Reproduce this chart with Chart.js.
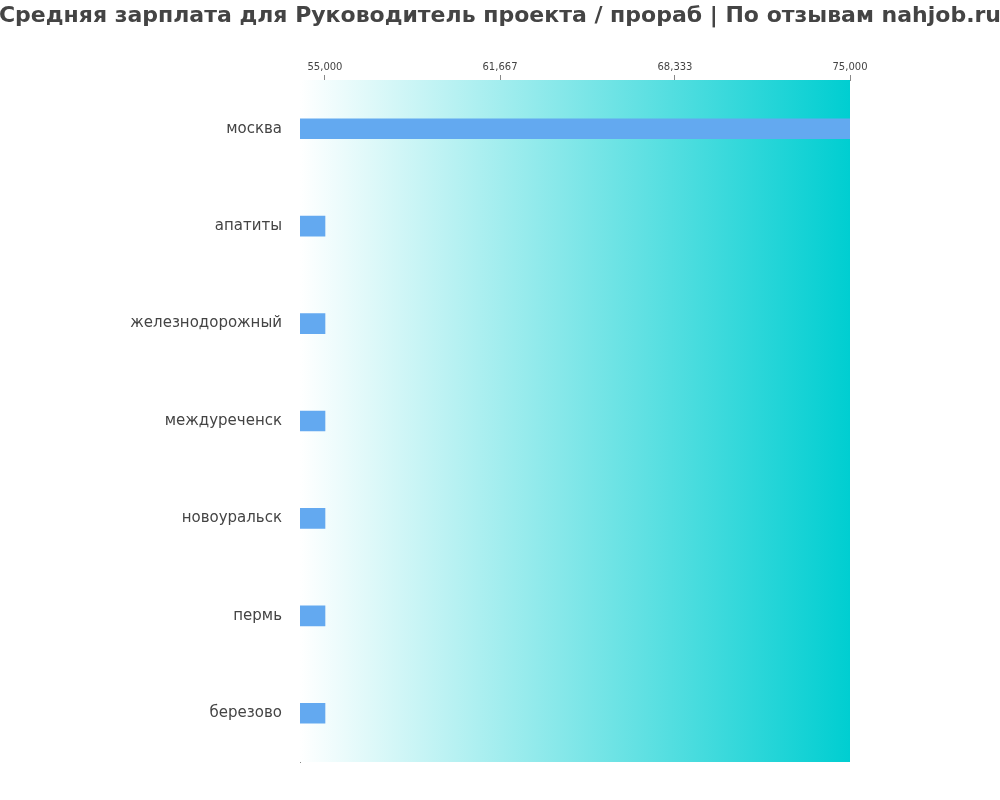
<!DOCTYPE html>
<html>
<head>
<meta charset="utf-8">
<script src="https://cdn.jsdelivr.net/npm/chart.js@4"></script>
<style>
  body { margin: 0; background: #fff; }
  #wrap { width: 1000px; height: 800px; }
</style>
</head>
<body>
<div id="wrap"><canvas id="salaryChart"></canvas></div>
<script>
const cities = ['москва', 'апатиты', 'железнодорожный', 'междуреченск', 'новоуральск', 'пермь', 'березово'];
const salaries = [75000, 55000, 55000, 55000, 55000, 55000, 55000];
const tickValues = [55000, 61667, 68333, 75000];
const chartTitle = 'Средняя зарплата для Руководитель проекта / прораб | По отзывам nahjob.ru';

// gradient background + title
const decorPlugin = {
    id: 'decor',
    beforeDatasetsDraw(chart) {
        const { ctx, chartArea: a } = chart;
        const g = ctx.createLinearGradient(a.left, 0, a.right, 0);
        g.addColorStop(0, '#ffffff');
        g.addColorStop(1, '#00ced1');
        ctx.save();
        ctx.fillStyle = g;
        ctx.fillRect(a.left, a.top, a.right - a.left, a.bottom - a.top);
        ctx.restore();
    },
    afterDraw(chart) {
        const ctx = chart.ctx;
        ctx.save();
        ctx.font = 'bold 22px "DejaVu Sans"';
        ctx.fillStyle = '#444';
        ctx.textAlign = 'center';
        ctx.textBaseline = 'middle';
        ctx.fillText(chartTitle, 500, 16);
        ctx.restore();
    }
};

new Chart(document.getElementById('salaryChart').getContext('2d'), {
    type: 'bar',
    data: {
        labels: cities,
        datasets: [{
            data: salaries,
            backgroundColor: '#63a9f0',
            barThickness: 20
        }]
    },
    options: {
        indexAxis: 'y',
        responsive: true,
        maintainAspectRatio: false,
        animation: false,
        layout: { padding: { top: 0, right: 150, bottom: 38, left: 0 } },
        plugins: { legend: { display: false }, tooltip: { enabled: false } },
        scales: {
            x: {
                position: 'top',
                min: 54048,
                max: 75000,
                afterFit(s) { s.height = 80; },
                afterBuildTicks(s) { s.ticks = tickValues.map(v => ({ value: v })); },
                grid: { display: true, drawOnChartArea: false, tickLength: 5, color: '#888' },
                border: { display: true, color: '#888' },
                ticks: { font: { family: 'DejaVu Sans', size: 10 }, color: '#444', maxRotation: 0, padding: 2 }
            },
            y: {
                afterFit(s) { s.width = 300; },
                grid: { display: false },
                border: { display: true, color: '#888' },
                ticks: { font: { family: 'DejaVu Sans', size: 15 }, color: '#444', padding: 10 }
            }
        }
    },
    plugins: [decorPlugin]
});
</script>
</body>
</html>
